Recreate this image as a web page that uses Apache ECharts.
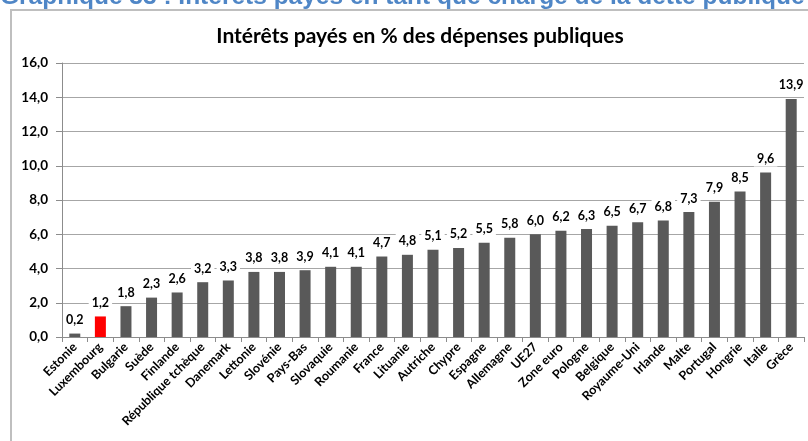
<!DOCTYPE html>
<html>
<head>
<meta charset="utf-8">
<script src="https://cdn.jsdelivr.net/npm/echarts@6/dist/echarts.min.js"></script>
<style>
html,body{margin:0;padding:0;background:#fff;}
#chart{width:808px;height:441px;}
</style>
</head>
<body>
<div id="chart"></div>
<script>
var categories = ["Estonie","Luxembourg","Bulgarie","Suède","Finlande","République tchèque","Danemark","Lettonie","Slovénie","Pays-Bas","Slovaquie","Roumanie","France","Lituanie","Autriche","Chypre","Espagne","Allemagne","UE27","Zone euro","Pologne","Belgique","Royaume-Uni","Irlande","Malte","Portugal","Hongrie","Italie","Grèce"];
var values = [0.2,1.2,1.8,2.3,2.6,3.2,3.3,3.8,3.8,3.9,4.1,4.1,4.7,4.8,5.1,5.2,5.5,5.8,6.0,6.2,6.3,6.5,6.7,6.8,7.3,7.9,8.5,9.6,13.9];
var highlighted = ["Luxembourg"];
var yTicks = [0,2,4,6,8,10,12,14,16];
var heading = "Graphique 33 : Intérêts payés en tant que charge de la dette publique";
var chartTitle = "Intérêts payés en % des dépenses publiques";

function fmt(v){ return Number(v).toFixed(1).replace('.', ','); }

var chart = echarts.init(document.getElementById('chart'), null, {renderer:'canvas'});
var data = values.map(function(v,i){
  return {value:v, itemStyle:{color: highlighted.indexOf(categories[i])>=0 ? '#FF0000' : '#595959'}};
});
chart.setOption({
  animation:false,
  backgroundColor:'#fff',
  graphic:[
    {type:'rect', z:-10, shape:{x:11,y:10,width:820,height:460}, style:{fill:'#fff', stroke:'#bfbfbf', lineWidth:2}},
    {type:'text', left:0, top:-15, style:{text:heading, fill:'#4f86c6', font:'bold 24.5px "Liberation Sans", Arial, sans-serif'}}
  ],
  title:{text:chartTitle, left:415, top:21, textAlign:'center',
    textStyle:{fontFamily:'Lato, "Open Sans", sans-serif', fontWeight:'bold', fontSize:21, color:'#000'}},
  grid:{left:62, right:4, top:63, bottom:104, containLabel:false},
  xAxis:{type:'category', data:categories,
    axisLine:{lineStyle:{color:'#8c8c8c', width:1}},
    axisTick:{show:true, length:5, lineStyle:{color:'#8c8c8c'}},
    axisLabel:{rotate:45, interval:0, margin:8, color:'#000', fontFamily:'Lato, sans-serif', fontWeight:'bold', fontSize:12.5}
  },
  yAxis:{type:'value', min:0, max:16, interval:2,
    axisLine:{show:true, lineStyle:{color:'#8c8c8c'}},
    axisTick:{show:true, length:6, lineStyle:{color:'#8c8c8c'}},
    splitLine:{lineStyle:{color:'#a6a6a6', width:1}},
    axisLabel:{formatter:function(v){return fmt(v);}, margin:14, color:'#000', fontFamily:'Lato, sans-serif', fontWeight:'bold', fontSize:13.5}
  },
  series:[{type:'bar', data:data, barWidth:11,
    label:{show:true, position:'top', distance:6, formatter:function(p){return fmt(p.value);},
      color:'#000', fontFamily:'Lato, sans-serif', fontWeight:'bold', fontSize:12.5, backgroundColor:'#fff', padding:[1,3]}
  }]
});
</script>
</body>
</html>
